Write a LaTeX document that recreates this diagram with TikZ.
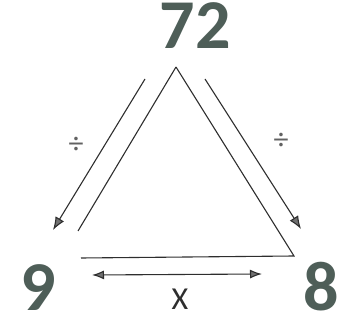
\documentclass[tikz,border=0pt]{standalone}
\usepackage{fontspec}
\setmainfont{Carlito}
\usetikzlibrary{arrows.meta}
\definecolor{DigitGreen}{HTML}{4E5E58}
\definecolor{InkGray}{HTML}{2E2E2E}
\definecolor{HeadGray}{HTML}{707070}
\tikzset{
  number/.style={text=DigitGreen, font=\fontsize{70}{70}\selectfont\bfseries, inner sep=0pt, anchor=base},
  sign/.style={text=InkGray!75, font=\fontsize{30}{30}\selectfont, inner sep=0pt},
  letter/.style={text=InkGray, font=\fontsize{32}{32}\selectfont, inner sep=0pt, anchor=base},
  edge/.style={draw=InkGray, line width=1.1pt},
  arrow/.style={-{Latex[length=13pt, width=10pt, fill=HeadGray]}, draw=InkGray, line width=1.1pt},
  twoway/.style={{Latex[length=12pt, width=9pt, fill=HeadGray]}-{Latex[length=12pt, width=9pt, fill=HeadGray]}, draw=InkGray, line width=1.1pt}
}

\begin{document}
\begin{tikzpicture}[x=1pt, y=-1pt]
\useasboundingbox (0,0) rectangle (349,326);
% numbers
\node[number] (top) at (195,49) {72};
\node[number] (left) at (38,311) {9};
\node[number] (right) at (321,311) {8};
\node[letter] (times) at (180,310) {X};
\node[sign] (divl) at (76,145) {÷};
\node[sign] (divr) at (281,141) {÷};
% triangle
\coordinate (apex) at (176,67);
\coordinate (lowl) at (78,231);
\coordinate (basel) at (81,258);
\coordinate (baser) at (294,256);
\draw[edge] (apex) -- (lowl);
\draw[edge] (apex) -- (baser) -- (basel);
% arrows
\coordinate (al0) at (145,79);
\coordinate (al1) at (53,230);
\coordinate (ar0) at (205,79);
\coordinate (ar1) at (301,229);
\coordinate (ab0) at (92,275);
\coordinate (ab1) at (262,274);
\draw[arrow] (al0) -- (al1);
\draw[arrow] (ar0) -- (ar1);
\draw[twoway] (ab0) -- (ab1);
\end{tikzpicture}
\end{document}
